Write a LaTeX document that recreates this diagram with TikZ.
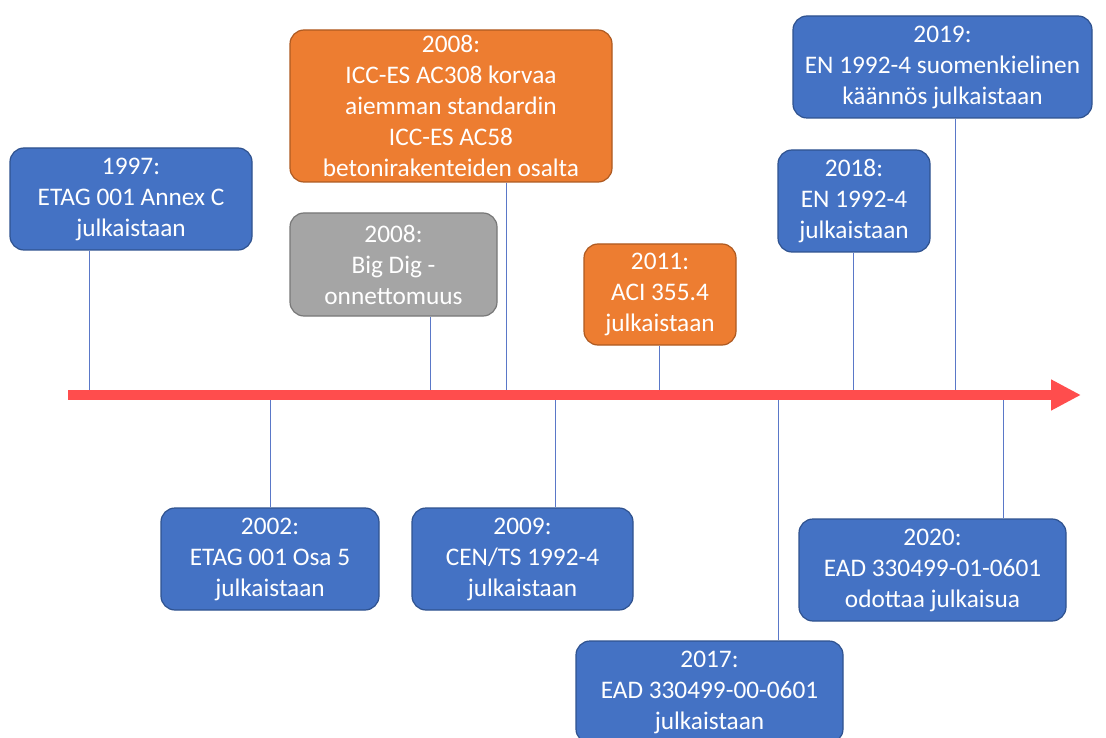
\documentclass[tikz,border=0pt]{standalone}
\usepackage{fontspec}
\setmainfont{Carlito}
\usetikzlibrary{arrows.meta}
\definecolor{bblue}{RGB}{68,114,196}
\definecolor{bblueline}{RGB}{47,82,143}
\definecolor{borange}{RGB}{237,125,49}
\definecolor{borangeline}{RGB}{174,90,33}
\definecolor{bgrey}{RGB}{165,165,165}
\definecolor{bgreyline}{RGB}{120,120,120}
\definecolor{axisred}{RGB}{255,77,77}
\definecolor{connblue}{RGB}{90,120,200}
\begin{document}
\begin{tikzpicture}[x=1pt,y=-1pt,
  evbox/.style={rounded corners=14pt, line width=1.2pt, text=white, align=center,
    font=\fontsize{25.3}{31}\selectfont, inner sep=0pt},
  bluebox/.style={evbox, fill=bblue, draw=bblueline},
  orangebox/.style={evbox, fill=borange, draw=borangeline},
  greybox/.style={evbox, fill=bgrey, draw=bgreyline},
  conn/.style={draw=connblue, line width=0.9pt},
  axis/.style={draw=axisred, line width=9.5pt, -{Triangle[length=30pt,width=29pt]}}]
\useasboundingbox (0,0) rectangle (1106,738);
\fill[white] (0,0) rectangle (1106,738);

% boxes
\node[bluebox, minimum width=242pt, minimum height=102pt] (b1997) at (131,199) {1997:\\ETAG 001 Annex C\\julkaistaan};
\node[orangebox, minimum width=322pt, minimum height=152pt] (b2008a) at (451,106) {2008:\\ICC-ES AC308 korvaa\\aiemman standardin\\ICC-ES AC58\\betonirakenteiden osalta};
\node[greybox, minimum width=207pt, minimum height=103pt] (b2008b) at (393.5,264.5) {2008:\\Big Dig -\\onnettomuus};
\node[orangebox, minimum width=152pt, minimum height=101pt] (b2011) at (660,294.5) {2011:\\ACI 355.4\\julkaistaan};
\node[bluebox, minimum width=152pt, minimum height=102pt] (b2018) at (854,201) {2018:\\EN 1992-4\\julkaistaan};
\node[bluebox, minimum width=299pt, minimum height=102pt] (b2019) at (942.5,67) {2019:\\EN 1992-4 suomenkielinen\\käännös julkaistaan};
\node[bluebox, minimum width=218pt, minimum height=102pt] (b2002) at (270,559) {2002:\\ETAG 001 Osa 5\\julkaistaan};
\node[bluebox, minimum width=221pt, minimum height=102pt] (b2009) at (522.5,559) {2009:\\CEN/TS 1992-4\\julkaistaan};
\node[bluebox, minimum width=267pt, minimum height=102pt] (b2017) at (709.5,692) {2017:\\EAD 330499-00-0601\\julkaistaan};
\node[bluebox, minimum width=267pt, minimum height=102pt] (b2020) at (932.5,570) {2020:\\EAD 330499-01-0601\\odottaa julkaisua};

% points on the axis
\coordinate (ax0) at (68,395);
\coordinate (ax1) at (1081,395);
\coordinate (p1997) at (89,395);
\coordinate (p2008a) at (506,395);
\coordinate (p2008b) at (430,395);
\coordinate (p2011) at (659,395);
\coordinate (p2018) at (853,395);
\coordinate (p2019) at (955,395);
\coordinate (p2002) at (270,395);
\coordinate (p2009) at (555,395);
\coordinate (p2017) at (778,395);
\coordinate (p2020) at (1003,395);

% connectors
\foreach \n in {1997,2008a,2008b,2011,2018,2019}
  \draw[conn] (b\n.south -| p\n) -- (p\n);
\foreach \n in {2002,2009,2017,2020}
  \draw[conn] (p\n) -- (b\n.north -| p\n);

% axis
\draw[axis] (ax0) -- (ax1);
\end{tikzpicture}
\end{document}
